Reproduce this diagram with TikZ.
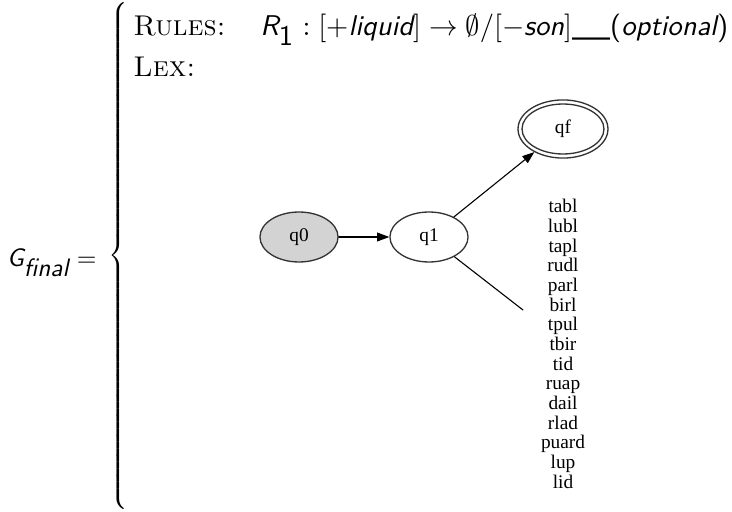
\documentclass[tikz,border=0pt]{standalone}
\usepackage{fontspec}
\newfontfamily\dotfont{Liberation Serif}
\usetikzlibrary{shapes.geometric,arrows.meta,positioning}
\definecolor{dotgray}{HTML}{D3D3D3}
\newcommand{\sfit}[1]{\textsf{\itshape #1}}
\begin{document}
\begin{tikzpicture}[x=0.016cm,y=-0.016cm,line join=round,line cap=round,
    >={Triangle[length=5.5pt,width=4pt]},
    state/.style={ellipse,draw=black!80,line width=0.6pt,inner sep=0pt,
      minimum width=1.25cm,minimum height=0.8cm,font=\dotfont\fontsize{8.8}{10}\selectfont},
    final/.style={state,minimum width=1.44cm,minimum height=0.93cm},
    edge/.style={line width=0.5pt},
    txt/.style={inner sep=0pt,anchor=base west}]
  \useasboundingbox (0,0) rectangle (732,512);
  % left part
  \node[inner sep=0pt,anchor=base east] (gfinal) at (97,267) {\scalebox{1.15}{$\sfit{G}_{\sfit{final}} =$}};
  \node[inner sep=0pt] (brace) at (120,257) {\scalebox{1}[1.012]{$\left\{\vrule height 3.96cm depth 3.96cm width 0pt\right.$}};
  % rules and lexicon
  \node[txt] (rules) at (133,36) {\scalebox{1.3}{\textsc{Rules:}}};
  \node[txt] (rone) at (260,36) {\scalebox{1.3}{$\textsf{\itshape R}_{\textsf{1}} : [+\sfit{liquid}] \rightarrow \emptyset/[-\sfit{son}]\textsf{\_\_(}\sfit{optional}\textsf{)}$}};
  \node[txt] (lex) at (133,77) {\scalebox{1.3}{\textsc{Lex:}}};
  % automaton
  \node[state,fill=dotgray] (q0) at (299,237) {q0};
  \node[state] (q1) at (429,237) {q1};
  \node[final] (qf) at (563,129) {qf};
  \draw[line width=0.6pt,black!80] (qf.center) ellipse (0.656cm and 0.4cm);
  \coordinate (tail) at (523,310);
  \node[font=\dotfont\fontsize{8.8}{8.96}\selectfont,align=center,inner sep=0pt] (words) at (563,344)
    {tabl\\lubl\\tapl\\rudl\\parl\\birl\\tpul\\tbir\\tid\\ruap\\dail\\rlad\\puard\\lup\\lid};
  \draw[edge,->] (q0) -- (q1);
  \draw[edge,->] (q1) -- (qf);
  \draw[edge] (q1) -- (tail);
\end{tikzpicture}
\end{document}
